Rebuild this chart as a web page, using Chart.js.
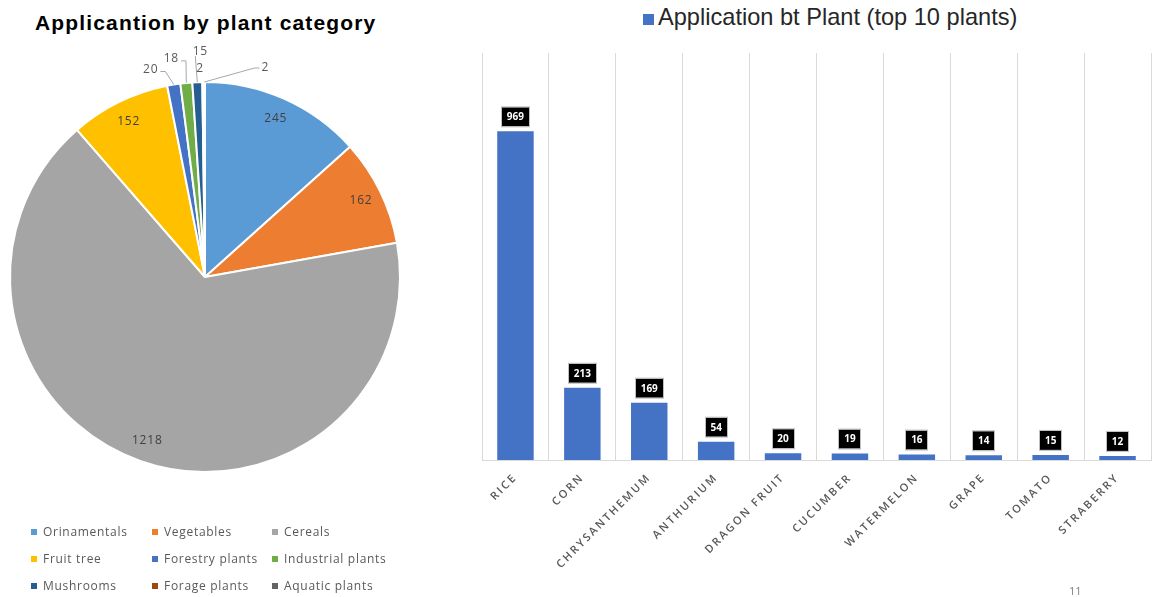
<!DOCTYPE html>
<html>
<head>
<meta charset="utf-8">
<script src="https://cdn.jsdelivr.net/npm/chart.js@4.4.1/dist/chart.umd.min.js"></script>
<style>
  body { margin: 0; width: 1152px; height: 597px; background: #fff; position: relative; overflow: hidden; font-family: "Open Sans", sans-serif; }
  #pieTitle { position: absolute; left: 35px; top: 12px; font: bold 21px/21px "Liberation Sans", Arial, sans-serif; letter-spacing: 1.15px; color: #000; white-space: nowrap; }
  #barLegend { position: absolute; left: 643px; top: 6px; font: 23.6px/23px "Liberation Sans", Arial, sans-serif; color: #262626; white-space: nowrap; display: flex; align-items: center; }
  #barLegend i { display: inline-block; width: 11px; height: 11px; background: #4472C4; margin-right: 4px; margin-top: 3px; }
  #pieWrap { position: absolute; left: 0; top: 40px; width: 420px; height: 480px; }
  #barWrap { position: absolute; left: 470px; top: 0; width: 682px; height: 597px; }
  #pieLegend { position: absolute; left: 31px; top: 518px; display: grid; grid-template-columns: 121px 120px 150px; grid-auto-rows: 27px; font-size: 12px; letter-spacing: 0.7px; color: #595959; }
  #pieLegend div { display: flex; align-items: center; white-space: nowrap; }
  #pieLegend span { display: inline-block; width: 6px; height: 6px; margin-right: 6px; }
  #pageNum { position: absolute; left: 1069px; top: 583px; font-size: 11px; color: #7f7f7f; }
</style>
</head>
<body>
<div id="pieTitle">Applicantion by plant category</div>
<div id="barLegend"><i></i>Application bt Plant (top 10 plants)</div>
<div id="pieWrap"><canvas id="pie"></canvas></div>
<div id="pieLegend"></div>
<div id="barWrap"><canvas id="bar"></canvas></div>
<div id="pageNum">11</div>
<script>
// left chart: applications by plant category
const categories = ["Orinamentals", "Vegetables", "Cereals", "Fruit tree", "Forestry plants", "Industrial plants", "Mushrooms", "Forage plants", "Aquatic plants"];
const categoryValues = [245, 162, 1218, 152, 20, 18, 15, 2, 2];
const categoryColors = ["#5B9BD5", "#ED7D31", "#A5A5A5", "#FFC000", "#4472C4", "#70AD47", "#255E91", "#9E480E", "#636363"];
// label offset from slice edge for the small outside labels (null = label inside)
const calloutOffsets = [null, null, null, null, [-23, -15], [-15, -24], [3, -31], [-3, -13], [61, -14]];

// right chart: top 10 plants
const plants = ["RICE", "CORN", "CHRYSANTHEMUM", "ANTHURIUM", "DRAGON FRUIT", "CUCUMBER", "WATERMELON", "GRAPE", "TOMATO", "STRABERRY"];
const plantApps = [969, 213, 169, 54, 20, 19, 16, 14, 15, 12];

// html legend under the pie
const legendBox = document.getElementById("pieLegend");
categories.forEach((name, i) => {
  const item = document.createElement("div");
  item.innerHTML = '<span style="background:' + categoryColors[i] + '"></span>' + name;
  legendBox.appendChild(item);
});

const pieLabels = {
  id: "pieLabels",
  afterDatasetsDraw(chart) {
    const ctx = chart.ctx;
    const meta = chart.getDatasetMeta(0);
    ctx.save();
    ctx.font = '12px "Open Sans"';
    ctx.letterSpacing = "0.8px";
    ctx.textAlign = "center";
    ctx.textBaseline = "middle";
    ctx.strokeStyle = "#a6a6a6";
    ctx.lineWidth = 1;
    meta.data.forEach((arc, i) => {
      const text = String(categoryValues[i]);
      const mid = (arc.startAngle + arc.endAngle) / 2;
      const r = arc.outerRadius;
      const off = calloutOffsets[i];
      if (!off) {
        ctx.fillStyle = "#404040";
        ctx.fillText(text, arc.x + Math.cos(mid) * r * 0.89, arc.y + Math.sin(mid) * r * 0.89);
        return;
      }
      const ex = arc.x + Math.cos(mid) * r;
      const ey = arc.y + Math.sin(mid) * r;
      const lx = ex + off[0];
      const ly = ey + off[1];
      const w = ctx.measureText(text).width;
      if (Math.hypot(off[0], off[1]) > 15) {
        ctx.beginPath();
        if (Math.abs(off[0]) < 6) {
          ctx.moveTo(lx - 5, ly + 5);
        } else if (off[0] < 0) {
          ctx.moveTo(lx + w / 2 + 2, ly + 2);
          ctx.lineTo(lx + w / 2 + 7, ly + 2);
        } else {
          ctx.moveTo(lx - w / 2 - 2, ly);
          ctx.lineTo(lx - w / 2 - 7, ly);
        }
        ctx.lineTo(ex, ey);
        ctx.stroke();
      }
      ctx.fillStyle = "#595959";
      ctx.fillText(text, lx, ly);
    });
    ctx.restore();
  }
};

new Chart(document.getElementById("pie"), {
  type: "pie",
  data: {
    labels: categories,
    datasets: [{
      data: categoryValues,
      backgroundColor: categoryColors,
      borderColor: "#fff",
      borderWidth: 2
    }]
  },
  options: {
    responsive: true,
    maintainAspectRatio: false,
    animation: false,
    layout: { padding: { left: 9, right: 19, top: 41, bottom: 47 } },
    plugins: { legend: { display: false }, tooltip: { enabled: false } }
  },
  plugins: [pieLabels]
});

const barLabels = {
  id: "barLabels",
  beforeDraw(chart) {
    chart.ctx.letterSpacing = "2.2px";
  },
  beforeDatasetsDraw(chart) {
    chart.ctx.letterSpacing = "0px";
  },
  afterDatasetsDraw(chart) {
    const ctx = chart.ctx;
    ctx.save();
    ctx.font = 'bold 10px "Open Sans"';
    ctx.textAlign = "center";
    ctx.textBaseline = "middle";
    chart.getDatasetMeta(0).data.forEach((bar, i) => {
      const text = String(plantApps[i]);
      const w = Math.round(ctx.measureText(text).width + 10);
      const h = 19;
      const bottom = bar.y - 5;
      ctx.fillStyle = "#000";
      ctx.fillRect(Math.round(bar.x - w / 2), bottom - h, w, h);
      ctx.strokeStyle = "#bfbfbf";
      ctx.lineWidth = 1;
      ctx.strokeRect(Math.round(bar.x - w / 2) - 0.5, bottom - h - 0.5, w + 1, h + 1);
      ctx.fillStyle = "#fff";
      ctx.fillText(text, bar.x, bottom - h / 2 + 0.5);
    });
    ctx.restore();
  }
};

new Chart(document.getElementById("bar"), {
  type: "bar",
  data: {
    labels: plants,
    datasets: [{
      label: "Application bt Plant (top 10 plants)",
      data: plantApps,
      backgroundColor: "#4472C4",
      categoryPercentage: 1,
      barPercentage: 0.545
    }]
  },
  options: {
    responsive: true,
    maintainAspectRatio: false,
    animation: false,
    layout: { padding: { left: 12, right: 1, top: 53, bottom: 0 } },
    plugins: { legend: { display: false }, tooltip: { enabled: false } },
    scales: {
      x: {
        grid: { color: "#d9d9d9", drawTicks: false, offset: true },
        border: { color: "#d9d9d9" },
        ticks: {
          color: "#595959",
          font: { family: "Open Sans", size: 11, weight: "600" },
          minRotation: 45,
          maxRotation: 45,
          autoSkip: false,
          padding: 11
        },
        afterFit(scale) { scale.height = 137; }
      },
      y: { display: false, min: 0, max: 1200 }
    }
  },
  plugins: [barLabels]
});
</script>
</body>
</html>
